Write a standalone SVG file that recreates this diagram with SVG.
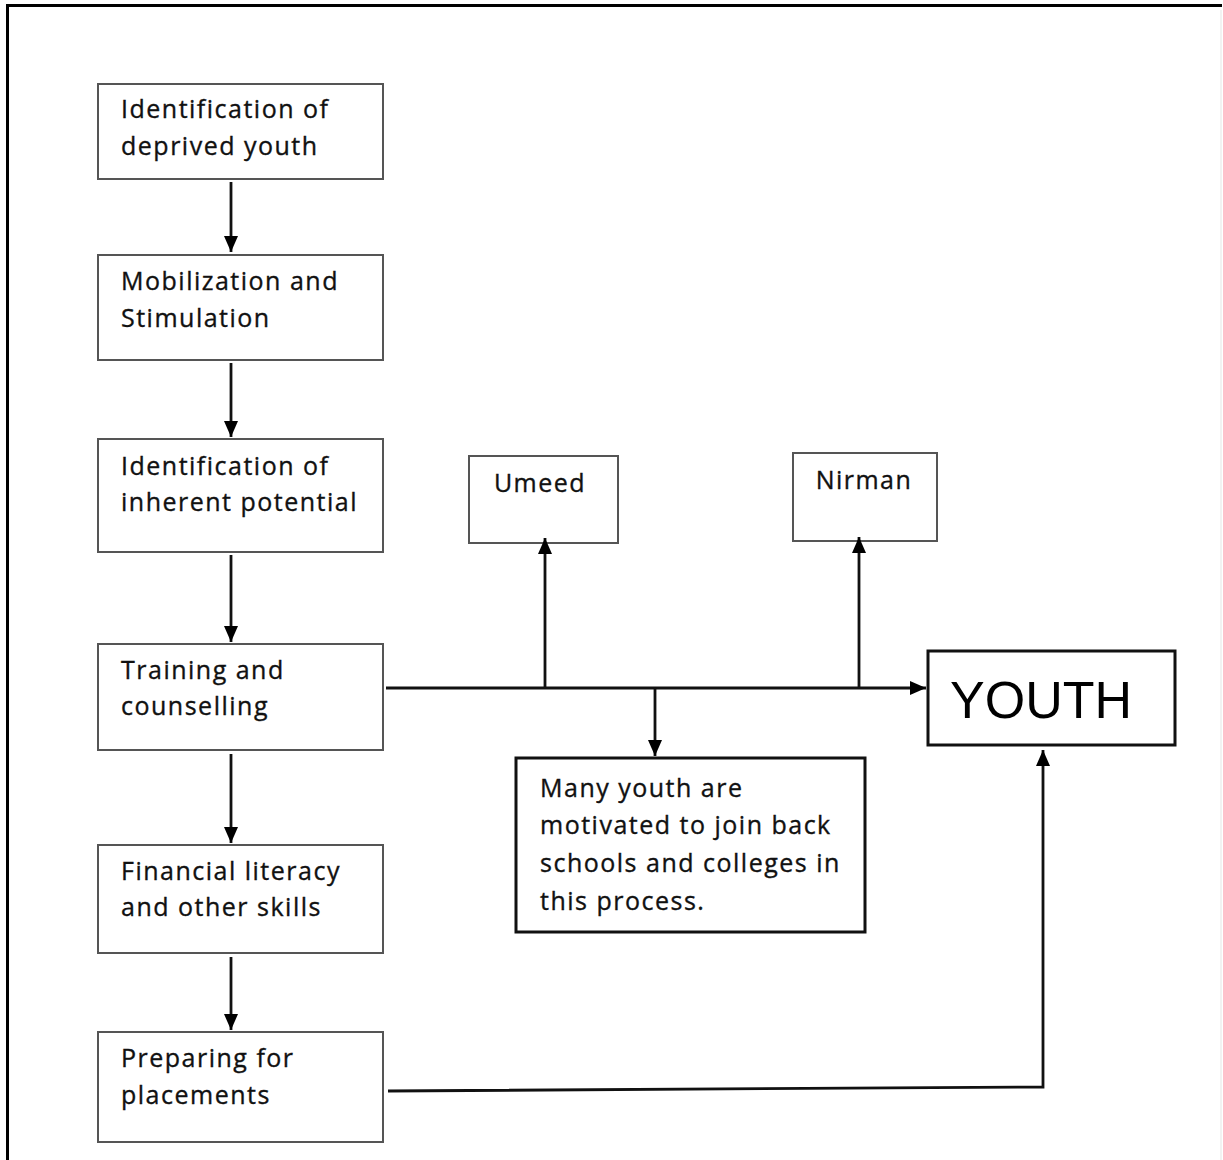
<svg xmlns="http://www.w3.org/2000/svg" width="1223" height="1160" viewBox="0 0 1223 1160">
<defs>
<marker id="ah" viewBox="0 0 16 14" refX="16" refY="7" markerWidth="16" markerHeight="14" markerUnits="userSpaceOnUse" orient="auto">
<path d="M0,0 L16,7 L0,14 z" fill="#000"/>
</marker>
<style>
.box{fill:#fff;stroke:#555;stroke-width:2}
.bbox{fill:#fff;stroke:#111;stroke-width:3}
.t{font-family:"Open Sans",Lato,sans-serif;font-size:25px;letter-spacing:1.5px;fill:#111;stroke:#111;stroke-width:0.35}
.big{font-family:"Liberation Sans",Arial,sans-serif;font-size:52px;fill:#000}
.c{stroke:#111;stroke-width:2.8;fill:none}
.ar{marker-end:url(#ah)}
</style>
</defs>
<rect width="1223" height="1160" fill="#fff"/>
<path d="M7.5,1160 V5.5 H1222" fill="none" stroke="#000" stroke-width="3"/>
<line x1="1221" y1="10" x2="1221" y2="1160" stroke="#eee" stroke-width="1.5"/>
<g id="n1"><rect class="box" x="98" y="84" width="285" height="95"/><text class="t" x="121" y="118">Identification of</text><text class="t" x="121" y="155">deprived youth</text></g>
<g id="n2"><rect class="box" x="98" y="255" width="285" height="105"/><text class="t" x="121" y="290">Mobilization and</text><text class="t" x="121" y="327">Stimulation</text></g>
<g id="n3"><rect class="box" x="98" y="439" width="285" height="113"/><text class="t" x="121" y="475">Identification of</text><text class="t" x="121" y="511">inherent potential</text></g>
<g id="n4"><rect class="box" x="98" y="644" width="285" height="106"/><text class="t" x="121" y="679">Training and</text><text class="t" x="121" y="715">counselling</text></g>
<g id="n5"><rect class="box" x="98" y="845" width="285" height="108"/><text class="t" x="121" y="880">Financial literacy</text><text class="t" x="121" y="916">and other skills</text></g>
<g id="n6"><rect class="box" x="98" y="1032" width="285" height="110"/><text class="t" x="121" y="1067">Preparing for</text><text class="t" x="121" y="1104">placements</text></g>
<g id="umeed"><rect class="box" x="469" y="456" width="149" height="87"/><text class="t" x="540" y="492" text-anchor="middle">Umeed</text></g>
<g id="nirman"><rect class="box" x="793" y="453" width="144" height="88"/><text class="t" x="864" y="489" text-anchor="middle">Nirman</text></g>
<g id="youth"><rect class="bbox" x="928" y="651" width="247" height="94"/><text class="big" x="950" y="718">YOUTH</text></g>
<g id="many"><rect class="bbox" x="516" y="758" width="349" height="174"/><text class="t" x="540" y="797">Many youth are</text><text class="t" x="540" y="834">motivated to join back</text><text class="t" x="540" y="872">schools and colleges in</text><text class="t" x="540" y="910">this process.</text></g>
<g id="connectors">
<line class="c ar" x1="231" y1="182" x2="231" y2="252"/>
<line class="c ar" x1="231" y1="363" x2="231" y2="437"/>
<line class="c ar" x1="231" y1="555" x2="231" y2="642"/>
<line class="c ar" x1="231" y1="754" x2="231" y2="843"/>
<line class="c ar" x1="231" y1="957" x2="231" y2="1030"/>
<line class="c ar" x1="386" y1="688" x2="926" y2="688"/>
<line class="c ar" x1="545" y1="688" x2="545" y2="538"/>
<line class="c ar" x1="859" y1="688" x2="859" y2="537"/>
<line class="c ar" x1="655" y1="688" x2="655" y2="756"/>
<polyline class="c ar" points="388,1091 1043,1087 1043,750"/>
</g>
</svg>
